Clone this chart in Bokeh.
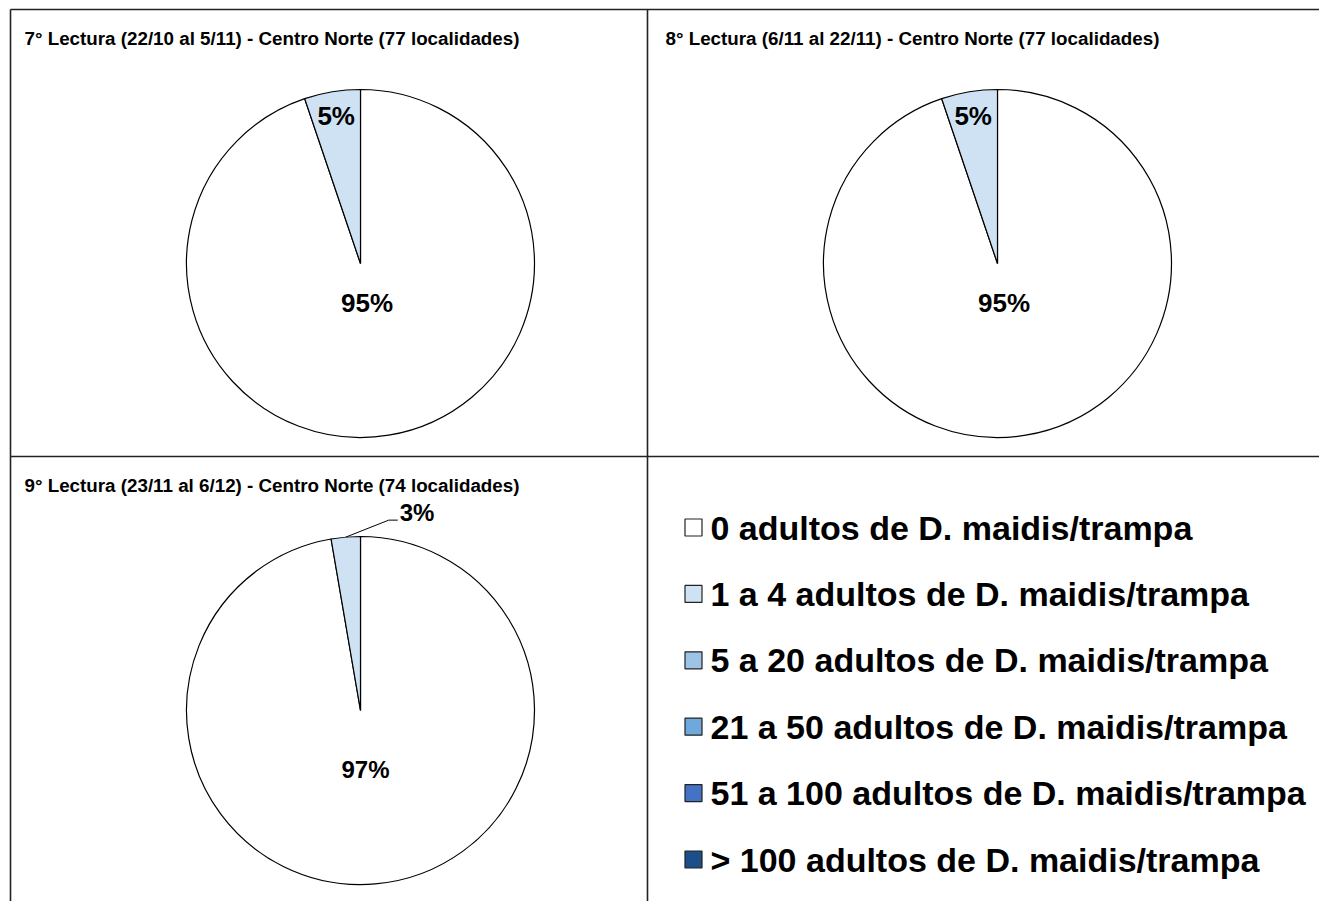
import math
from bokeh.plotting import figure
from bokeh.models import Range1d
from bokeh.core.properties import value
from bokeh.embed import file_html
from bokeh.resources import INLINE

# ---------------- data ----------------
categories = [
    "0 adultos de D. maidis/trampa",
    "1 a 4 adultos de D. maidis/trampa",
    "5 a 20 adultos de D. maidis/trampa",
    "21 a 50 adultos de D. maidis/trampa",
    "51 a 100 adultos de D. maidis/trampa",
    "> 100 adultos de D. maidis/trampa",
]
colors = ["#FFFFFF", "#CFE2F3", "#9DC3E6", "#6FA8DC", "#4472C4", "#1A4F8A"]

titles = [
    "7° Lectura (22/10 al 5/11) - Centro Norte (77 localidades)",
    "8° Lectura (6/11 al 22/11) - Centro Norte (77 localidades)",
    "9° Lectura (23/11 al 6/12) - Centro Norte (74 localidades)",
]
lectura7 = [73, 4, 0, 0, 0, 0]
lectura8 = [73, 4, 0, 0, 0, 0]
lectura9 = [72, 2, 0, 0, 0, 0]
series = [lectura7, lectura8, lectura9]

# ---------------- layout / style ----------------
W, H = 1319, 901
FONT = value("Liberation Sans")

def Y(py):
    return H - py

p = figure(width=W, height=H, output_backend="svg", toolbar_location=None,
           x_range=Range1d(0, W), y_range=Range1d(0, H),
           min_border=0, outline_line_color=None)
p.axis.visible = False
p.grid.visible = False
p.background_fill_color = "white"
p.border_fill_color = "white"

# panel borders
p.line([10, W], [Y(9), Y(9)], line_color="#222222", line_width=1.6)
p.line([10, W], [Y(456), Y(456)], line_color="#222222", line_width=1.6)
p.line([10, 10], [Y(9), Y(H)], line_color="#222222", line_width=1.6)
p.line([647, 647], [Y(9), Y(H)], line_color="#222222", line_width=1.6)

centers = [(360, 263), (997, 263), (360, 710)]
title_pos = [(24, 38), (665, 38), (24, 485)]
R = 174
label_frac = [[0.23, 0.86], [0.23, 0.86], [0.34, None]]
label_size = ["26px", "26px", "24px"]

for k, vals in enumerate(series):
    cx, cyp = centers[k]
    cy = Y(cyp)
    total = float(sum(vals))
    cum = 0.0
    tx, ty = title_pos[k]
    p.text([tx], [Y(ty)], text=[titles[k]], text_font=FONT, text_font_style="bold",
           text_font_size="18.8px", text_align="left", text_baseline="alphabetic",
           text_color="black")
    for i, v in enumerate(vals):
        if v <= 0:
            continue
        start = math.pi / 2 - 2 * math.pi * cum / total
        end = start - 2 * math.pi * v / total
        cum += v
        p.wedge(x=[cx], y=[cy], radius=R, start_angle=[start], end_angle=[end],
                direction="clock", fill_color=colors[i], line_color="black",
                line_width=1.2)
        mid = (start + end) / 2
        pct = f"{round(100 * v / total)}%"
        f = label_frac[k][i]
        if f is not None:
            lx = cx + f * R * math.cos(mid)
            ly = cy + f * R * math.sin(mid)
            p.text([lx], [ly], text=[pct], text_font=FONT, text_font_style="bold",
                   text_font_size=label_size[k], text_align="center",
                   text_baseline="middle", text_color="black")
        else:
            ex = cx + R * math.cos(mid)
            ey = cy + R * math.sin(mid)
            elx, ely = ex + 43, ey + 17
            hx = elx + 9
            p.line([ex, elx, hx], [ey, ely, ely], line_color="black", line_width=1)
            p.text([hx + 2], [ely + 8], text=[pct], text_font=FONT,
                   text_font_style="bold", text_font_size=label_size[k],
                   text_align="left", text_baseline="middle", text_color="black")

# legend
leg_x_sq, leg_x_txt = 693, 710
leg_y0, leg_dy = 527, 66.4
for i, (cat, col) in enumerate(zip(categories, colors)):
    yy = Y(leg_y0 + i * leg_dy)
    p.rect(x=[leg_x_sq], y=[yy], width=17, height=17, fill_color=col,
           line_color="#222222", line_width=1.2)
    p.text([leg_x_txt], [yy], text=[cat], text_font=FONT, text_font_style="bold",
           text_font_size="34px", text_align="left", text_baseline="middle",
           text_color="black")

open("out.html", "w").write(file_html(p, INLINE))
